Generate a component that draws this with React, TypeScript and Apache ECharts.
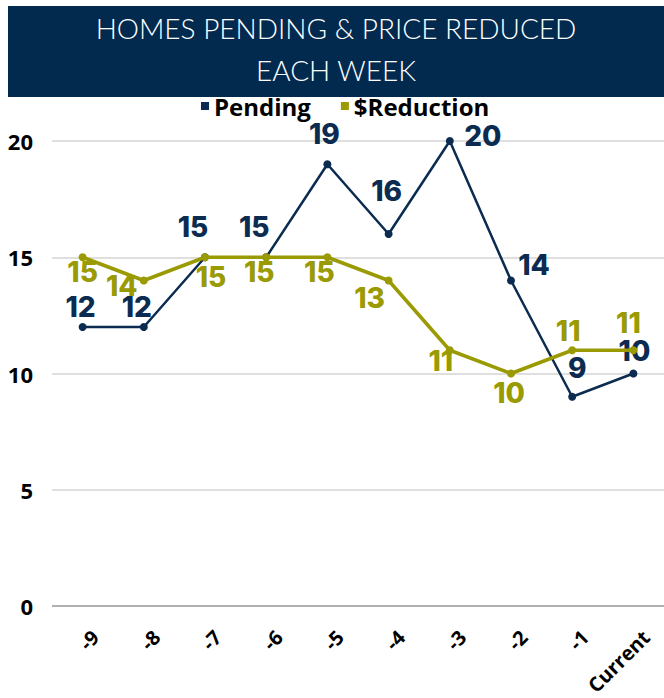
import React, { useEffect, useRef } from "react";
import * as echarts from "echarts";

const categories = ["-9", "-8", "-7", "-6", "-5", "-4", "-3", "-2", "-1", "Current"];
const pending = [12, 12, 15, 15, 19, 16, 20, 14, 9, 10];
const reduction = [15, 14, 15, 15, 15, 14, 11, 10, 11, 11];
const reductionLabels = ["15", "14", "15", "15", "15", "13", "11", "10", "11", "11"];
const yTicks = { min: 0, max: 20, interval: 5 };
const titleLines = ["HOMES PENDING & PRICE REDUCED", "EACH WEEK"];

// label offsets (placement styling, relative to point centre)
const pendingOffsets = [
  [-2, -20], [-7, -20], [-12, -30], [-12, -30], [-3, -30],
  [-2, -43], [33, -5], [23, -16], [5, -29], [1, -23],
];
const reductionOffsets = [
  [0, 15], [-22, 5], [6, 20], [-7, 15], [-8, 15],
  [-19, 17], [-9, 11], [-2, 19], [-4, -19], [-5, -27],
];

const NAVY = "#0b2c50";
const OLIVE = "#9a9a02";
const LABEL_FONT = "Inter";

export default function App() {
  const ref = useRef<HTMLDivElement>(null);
  useEffect(() => {
    if (!ref.current) return;
    const chart = echarts.init(ref.current, null, { renderer: "svg" });
    const mkLabel = (off: number[], color: string, fmt?: string) => ({
      show: true,
      position: "inside",
      offset: off,
      align: "center",
      verticalAlign: "middle",
      color,
      fontFamily: LABEL_FONT,
      fontWeight: 800,
      fontSize: 28,
      ...(fmt !== undefined ? { formatter: fmt } : {}),
    });
    chart.setOption({
      animation: false,
      backgroundColor: "#ffffff",
      graphic: [
        { type: "rect", shape: { x: 8, y: 6, width: 656, height: 91 }, style: { fill: "#022a4f" }, z: 0 },
        ...titleLines.map((t, i) => ({
          type: "text",
          x: 336,
          y: 28 + i * 42,
          style: {
            text: t,
            fill: "#ffffff",
            font: "300 28px Lato",
            textAlign: "center",
            textVerticalAlign: "middle",
          },
          z: 1,
        })),
      ],
      legend: {
        left: 196,
        top: 89,
        icon: "rect",
        itemWidth: 8,
        itemHeight: 8,
        itemGap: 30,
        textStyle: { fontFamily: "Open Sans", fontWeight: "bold", fontSize: 24, color: "#000" },
        data: ["Pending", "$Reduction"],
      },
      grid: {
        left: 52,
        right: 0,
        top: 141,
        bottom: 92,
        containLabel: false,
        outerBoundsMode: "none",
      },
      xAxis: {
        type: "category",
        data: categories,
        boundaryGap: true,
        axisLine: { show: false },
        axisTick: { show: false },
        axisLabel: {
          rotate: 45,
          margin: 15,
          verticalAlign: "top",
          lineHeight: 36,
          fontFamily: "Open Sans",
          fontWeight: "bold",
          fontSize: 20,
          color: "#000",
          interval: 0,
        },
      },
      yAxis: {
        type: "value",
        min: yTicks.min,
        max: yTicks.max,
        interval: yTicks.interval,
        axisLine: { show: false },
        axisTick: { show: false },
        splitLine: {
          lineStyle: { color: "#d4d4d4", width: 1.5 },
        },
        axisLabel: {
          margin: 19,
          fontFamily: "Open Sans",
          fontWeight: "bold",
          fontSize: 22,
          color: "#000",
        },
      },
      series: [
        {
          name: "Pending",
          type: "line",
          data: pending.map((v, i) => ({ value: v, label: mkLabel(pendingOffsets[i], NAVY) })),
          color: NAVY,
          lineStyle: { color: NAVY, width: 2.5 },
          itemStyle: { color: NAVY },
          symbol: "circle",
          symbolSize: 8,
          z: 3,
        },
        {
          name: "$Reduction",
          type: "line",
          data: reduction.map((v, i) => ({
            value: v,
            label: mkLabel(reductionOffsets[i], OLIVE, reductionLabels[i]),
          })),
          color: OLIVE,
          lineStyle: { color: OLIVE, width: 3.5 },
          itemStyle: { color: OLIVE },
          symbol: "circle",
          symbolSize: 8,
          z: 4,
          markLine: {
            silent: true,
            symbol: "none",
            label: { show: false },
            lineStyle: { color: "#a0a0a0", width: 1.5, type: "solid" },
            data: [{ yAxis: 0 }],
          },
        },
      ],
    });
    return () => chart.dispose();
  }, []);
  return (
    <div
      ref={ref}
      style={{ position: "absolute", left: 0, top: 0, width: 664, height: 698 }}
    />
  );
}
